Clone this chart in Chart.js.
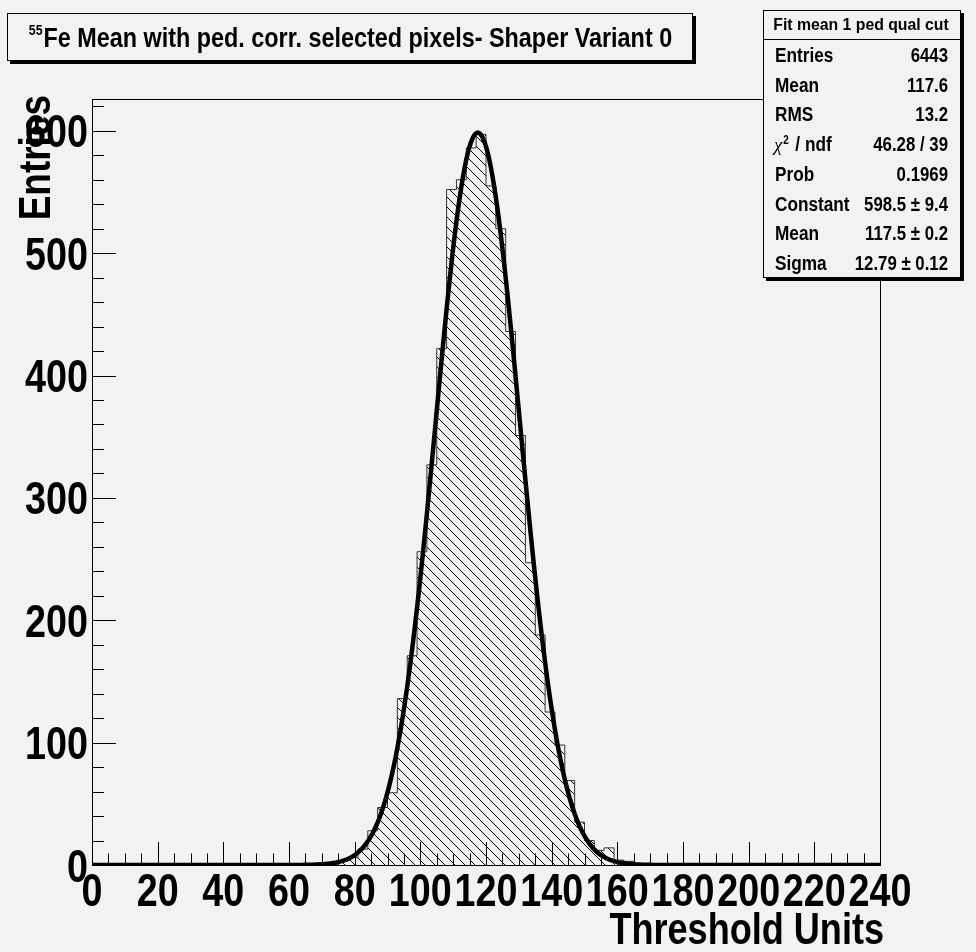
<!DOCTYPE html>
<html>
<head>
<meta charset="utf-8">
<title>55Fe Mean - Shaper Variant 0</title>
<script src="https://cdn.jsdelivr.net/npm/chart.js@4.4.1/dist/chart.umd.min.js"></script>
<style>
  html, body { margin: 0; background: #f2f2f2; }
  canvas { display: block; }
</style>
</head>
<body>
<canvas id="histo" width="976" height="952"></canvas>
<script>
// histogram binning (Threshold Units)
const xMin = 0;
const xMax = 240;
const binWidth = 3;
const firstFilledBin = 72; // lower edge of the first non-empty bin
const binCounts = [1, 3, 6, 13, 28, 47, 59, 136, 171, 256, 327, 422, 552, 560, 586, 597,
                   555, 520, 436, 351, 247, 188, 125, 98, 69, 35, 20, 12, 14, 4, 3, 1];

// gaussian fit result
const fitConstant = 598.5;
const fitMean = 117.5;
const fitSigma = 12.79;

// axes
const xTicks = [0, 20, 40, 60, 80, 100, 120, 140, 160, 180, 200, 220, 240];
const yTicks = [0, 100, 200, 300, 400, 500, 600];
const yMax = 626;
const xMinorStep = 5;
const yMinorStep = 20;

// texts
const titleSup = '55';
const titleText = 'Fe Mean with ped. corr. selected pixels- Shaper Variant 0';
const xTitle = 'Threshold Units';
const yTitle = 'Entries';
const statsHeader = 'Fit mean 1 ped qual cut';
const statLabels = ['Entries', 'Mean', 'RMS', 'χ2 / ndf', 'Prob', 'Constant', 'Mean', 'Sigma'];
const statValues = ['6443', '117.6', '13.2', '46.28 / 39', '0.1969', '598.5 ± 9.4', '117.5 ± 0.2', '12.79 ± 0.12'];

const BG = '#f2f2f2';
const FAMILY = '"Liberation Sans", Arial, sans-serif';
const font = (size) => `bold ${size}px ${FAMILY}`;
const NARROW = 0.82; // horizontal squeeze of the helvetica-bold labels

// histogram outline points: one per bin lower edge, stepped
function histPoints() {
  const pts = [];
  const nBins = (xMax - xMin) / binWidth;
  for (let k = 0; k < nBins; k++) {
    const lo = xMin + k * binWidth;
    const i = (lo - firstFilledBin) / binWidth;
    pts.push({ x: lo, y: i >= 0 && i < binCounts.length ? binCounts[i] : 0 });
  }
  pts.push({ x: xMax, y: 0 });
  return pts;
}

// fit function sampled along the whole axis
function fitPoints() {
  const pts = [];
  for (let x = xMin; x <= xMax; x += 0.5) {
    const t = (x - fitMean) / fitSigma;
    pts.push({ x, y: fitConstant * Math.exp(-0.5 * t * t) });
  }
  return pts;
}

// "\\\" hatch like fill style 3004
function hatchPattern() {
  const s = 10;
  const c = document.createElement('canvas');
  c.width = s; c.height = s;
  const g = c.getContext('2d');
  g.strokeStyle = '#000';
  g.lineWidth = 1;
  g.beginPath();
  g.moveTo(-1, -1); g.lineTo(s + 1, s + 1);
  g.moveTo(-1, s - 1); g.lineTo(1, s + 1);
  g.moveTo(s - 1, -1); g.lineTo(s + 1, 1);
  g.stroke();
  return g.createPattern(c, 'repeat');
}

function shadowBox(ctx, x, y, w, h) {
  ctx.fillStyle = '#000';
  ctx.fillRect(x + 3, y + 3, w, h);
  ctx.fillStyle = BG;
  ctx.fillRect(x, y, w, h);
  ctx.strokeStyle = '#000';
  ctx.lineWidth = 1;
  ctx.strokeRect(x + 0.5, y + 0.5, w - 1, h - 1);
}

// squeezed text, anchored at (x, y) on the baseline
function sqText(ctx, text, x, y, size, align, squeeze = NARROW) {
  ctx.save();
  ctx.font = font(size);
  ctx.textAlign = align;
  ctx.textBaseline = 'alphabetic';
  ctx.translate(x, y);
  ctx.scale(squeeze, 1);
  ctx.fillText(text, 0, 0);
  ctx.restore();
}

// frame, inside ticks and tick labels
const frameTicks = {
  id: 'frameTicks',
  afterDatasetsDraw(chart) {
    const { ctx, chartArea: a, scales: { x, y } } = chart;
    ctx.save();
    ctx.strokeStyle = '#000';
    ctx.lineWidth = 1;
    ctx.beginPath();
    for (let v = xMin; v <= xMax; v += xMinorStep) {
      const px = Math.round(x.getPixelForValue(v)) + 0.5;
      const len = xTicks.includes(v) ? 23 : 11.5;
      ctx.moveTo(px, a.bottom);
      ctx.lineTo(px, a.bottom - len);
    }
    for (let v = 0; v <= yMax; v += yMinorStep) {
      const py = Math.round(y.getPixelForValue(v)) + 0.5;
      const len = yTicks.includes(v) ? 24 : 12;
      ctx.moveTo(a.left, py);
      ctx.lineTo(a.left + len, py);
    }
    ctx.stroke();
    ctx.strokeRect(Math.round(a.left) + 0.5, Math.round(a.top) + 0.5,
                   Math.round(a.right - a.left), Math.round(a.bottom - a.top));
    ctx.fillStyle = '#000';
    x.ticks.forEach(t => sqText(ctx, String(t.value), x.getPixelForValue(t.value), a.bottom + 41, 46, 'center'));
    y.ticks.forEach(t => sqText(ctx, String(t.value), a.left - 4, y.getPixelForValue(t.value) + 16.5, 46, 'right'));
    ctx.restore();
  }
};

// title box, stats box and axis titles
const overlays = {
  id: 'overlays',
  afterDraw(chart) {
    const { ctx } = chart;
    ctx.save();

    // title
    shadowBox(ctx, 7, 13, 686, 48);
    ctx.fillStyle = '#000';
    ctx.font = font(15);
    const wSup = ctx.measureText(titleSup).width * NARROW;
    ctx.font = font(28.5);
    const wMain = ctx.measureText(titleText).width * NARROW;
    const x0 = 350 - (wSup + wMain) / 2;
    sqText(ctx, titleSup, x0, 35, 15, 'left');
    sqText(ctx, titleText, x0 + wSup + 1, 47, 28.5, 'left');

    // stats
    const sx = 763, sy = 10, sw = 198, sh = 268;
    shadowBox(ctx, sx, sy, sw, sh);
    ctx.beginPath();
    ctx.moveTo(sx, 39.5);
    ctx.lineTo(sx + sw, 39.5);
    ctx.stroke();
    ctx.fillStyle = '#000';
    sqText(ctx, statsHeader, sx + sw / 2 - 1, 30, 15.8, 'center', 1);
    statLabels.forEach((lab, i) => {
      const by = 62 + i * 29.7;
      if (lab.startsWith('χ')) {
        ctx.font = 'italic 19px "Liberation Serif", serif';
        ctx.textAlign = 'left';
        ctx.fillText('χ', 774, by);
        const wc = ctx.measureText('χ').width;
        sqText(ctx, '2', 775 + wc, by - 7, 12, 'left');
        sqText(ctx, '/ ndf', 775 + wc + 12, by, 20, 'left', 0.86);
      } else {
        sqText(ctx, lab, 775, by, 20, 'left', 0.86);
      }
      sqText(ctx, statValues[i], 948, by, 20, 'right', 0.84);
    });

    // axis titles
    sqText(ctx, xTitle, 884, 944, 44, 'right');
    ctx.translate(50, 95);
    ctx.rotate(-Math.PI / 2);
    ctx.font = font(44);
    ctx.textAlign = 'right';
    ctx.scale(0.84, 1);
    ctx.fillText(yTitle, 0, 0);
    ctx.restore();
  }
};

const ctx = document.getElementById('histo').getContext('2d');

new Chart(ctx, {
  type: 'line',
  data: {
    datasets: [
      {
        label: 'fit',
        data: fitPoints(),
        borderColor: '#000',
        borderWidth: 4.5,
        pointRadius: 0,
        fill: false,
        tension: 0
      },
      {
        label: 'histogram',
        data: histPoints(),
        stepped: 'before',
        borderColor: '#333',
        borderWidth: 1,
        pointRadius: 0,
        fill: 'origin',
        backgroundColor: hatchPattern()
      }
    ]
  },
  options: {
    responsive: false,
    animation: false,
    devicePixelRatio: 1,
    layout: { padding: { left: 0, top: 99, right: 96, bottom: 0 } },
    plugins: {
      legend: { display: false },
      tooltip: { enabled: false }
    },
    scales: {
      x: {
        type: 'linear',
        min: xMin,
        max: xMax,
        grid: { display: false, drawTicks: false },
        border: { display: false },
        afterFit: s => { s.height = 87; },
        afterBuildTicks: s => { s.ticks = xTicks.map(v => ({ value: v })); },
        ticks: { display: false }
      },
      y: {
        type: 'linear',
        min: 0,
        max: yMax,
        grid: { display: false, drawTicks: false },
        border: { display: false },
        afterFit: s => { s.width = 92; },
        afterBuildTicks: s => { s.ticks = yTicks.map(v => ({ value: v })); },
        ticks: { display: false }
      }
    }
  },
  plugins: [frameTicks, overlays]
});
</script>
</body>
</html>
